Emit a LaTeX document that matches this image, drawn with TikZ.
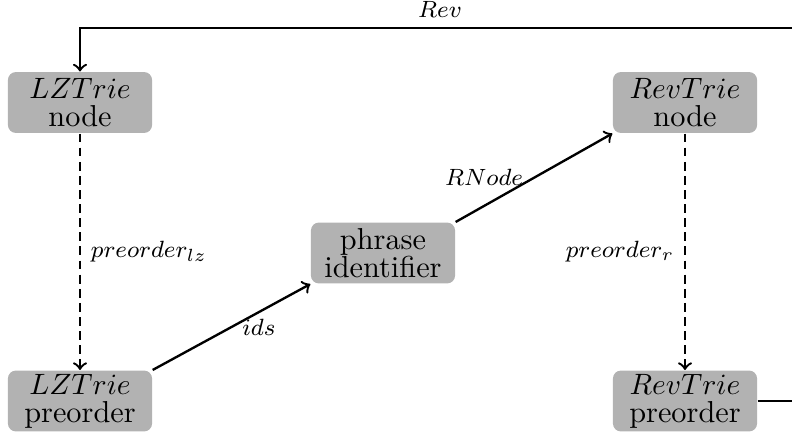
\documentclass[tikz,border=0pt]{standalone}
\begin{document}
\begin{tikzpicture}[x=0.34pt,y=-0.34pt,
  box/.style={fill=black!30, rounded corners=2.7pt, minimum width=49pt, minimum height=20.7pt, inner sep=1pt, align=center, font=\fontsize{10.3}{9.6}\selectfont},
  lbl/.style={font=\footnotesize},
  conn/.style={->, thick},
  dconn/.style={->, thick, dash pattern=on 3pt off 1.8pt}]
\useasboundingbox (0,0) rectangle (792,441);
\node[box] (lzn) at (80,102.5) {$LZTrie$\\node};
\node[box] (lzp) at (80,401) {$LZTrie$\\preorder};
\node[box] (phr) at (383,253) {phrase\\identifier};
\node[box] (rvn) at (685,102.5) {$RevTrie$\\node};
\node[box] (rvp) at (685,401) {$RevTrie$\\preorder};
\coordinate (tr) at (800,28);
\draw[dconn] (lzn) -- node[right,lbl] {$preorder_{lz}$} (lzp);
\draw[dconn] (rvn) -- node[left,lbl] {$preorder_{r}$} (rvp);
\draw[conn] (lzp.north east) -- node[right,lbl] {$ids$} (phr.south west);
\draw[conn] (phr.north east) -- node[left,lbl] {$RNode$} (rvn.south west);
\draw[conn] (rvp.east) -- (tr |- rvp.east) -- (tr) -- node[above,lbl] {$Rev$} (lzn.north |- tr) -- (lzn.north);
\end{tikzpicture}
\end{document}
